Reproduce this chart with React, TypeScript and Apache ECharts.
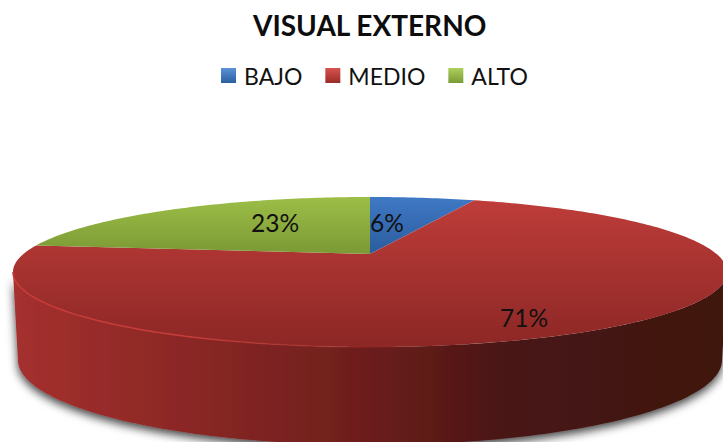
import React, { useEffect, useRef } from "react";
import * as echarts from "echarts";

const categories = ["BAJO", "MEDIO", "ALTO"];
const values = [6, 71, 23];
const titleText = "VISUAL EXTERNO";

const faceStops = [
  ["#3f78c4", "#2b5d9e"],
  ["#bf3d3a", "#8c2725"],
  ["#9dbe47", "#7b9935"],
];
const faceRanges = [
  [197, 254],
  [197, 347],
  [197, 254],
];
const legendStops = [
  ["#5b92d6", "#2a5f9f"],
  ["#d9534f", "#9a2b28"],
  ["#aed05c", "#7b9a36"],
];
const labelAnchors = [
  [387, 222],
  [524, 317],
  [275, 222],
];

// Projection of the tilted disc onto the page
const CX = 370;
const APEX_Y = 254;
const R = 346.6;
const H = 70.7;
const K = 0.24;
const TOP_ELLIPSE = { rx: 357, ry: 75, cy: 272 };
const BOTTOM_ELLIPSE = { rx: 352, ry: 85, cy: 360 };
const FONT = "Lato, 'Open Sans', sans-serif";

const rad = (d: number) => (d * Math.PI) / 180;
function top(theta: number): number[] {
  const u = Math.sin(rad(theta));
  const v = Math.cos(rad(theta));
  const w = 1 + K * v;
  return [CX + (R * u) / w, APEX_Y - (H * v) / w];
}
function bottom(p: number[]): number[] {
  return [
    CX + ((p[0] - CX) * BOTTOM_ELLIPSE.rx) / TOP_ELLIPSE.rx,
    BOTTOM_ELLIPSE.cy + ((p[1] - TOP_ELLIPSE.cy) * BOTTOM_ELLIPSE.ry) / TOP_ELLIPSE.ry,
  ];
}
function arc(a: number, b: number): number[][] {
  const n = Math.max(2, Math.ceil(Math.abs(b - a)));
  const pts: number[][] = [];
  for (let i = 0; i <= n; i++) pts.push(top(a + ((b - a) * i) / n));
  return pts;
}

const total = values.reduce((s, v) => s + v, 0);
const WALL_FROM = (Math.acos(-K) * 180) / Math.PI;
const WALL_TO = 360 - WALL_FROM;

function makeRender(index: number) {
  const before = values.slice(0, index).reduce((s, v) => s + v, 0);
  return (_params: any, api: any) => {
    const value = api.value(0);
    const start = (before / total) * 360;
    const end = ((before + value) / total) * 360;
    const children: any[] = [];
    const a = Math.max(start, WALL_FROM);
    const b = Math.min(end, WALL_TO);
    if (a < b) {
      const edge = arc(a, b);
      children.push({
        type: "polygon",
        shape: { points: edge.concat(edge.map(bottom).reverse()) },
        style: {
          fill: new echarts.graphic.LinearGradient(
            0, 0, 1, 0,
            [
              { offset: 0, color: "#a5302e" },
              { offset: 0.25, color: "#8a2725" },
              { offset: 0.5, color: "#6c1e1c" },
              { offset: 0.7, color: "#481513" },
              { offset: 1, color: "#3e1210" },
            ]
          ),
          shadowBlur: 10,
          shadowColor: "rgba(0,0,0,0.75)",
          shadowOffsetY: 4,
        },
      });
    }
    const outline = [[CX, APEX_Y]].concat(arc(start, end));
    children.push({
      type: "polygon",
      shape: { points: outline },
      style: {
        fill: new echarts.graphic.LinearGradient(
          0, faceRanges[index][0], 0, faceRanges[index][1],
          [
            { offset: 0, color: faceStops[index][0] },
            { offset: 1, color: faceStops[index][1] },
          ],
          true
        ),
      },
    });
    if (a < b) {
      children.push({
        type: "polyline",
        shape: { points: arc(a, b) },
        style: {
          fill: "none",
          lineWidth: 1.5,
          stroke: new echarts.graphic.LinearGradient(
            0, 0, 1, 0,
            [
              { offset: 0, color: "#c73c39" },
              { offset: 0.25, color: "#c73c39" },
              { offset: 0.6, color: "rgba(150,40,38,0)" },
              { offset: 1, color: "rgba(150,40,38,0)" },
            ]
          ),
        },
      });
    }
    children.push({
      type: "text",
      x: labelAnchors[index][0],
      y: labelAnchors[index][1],
      style: {
        text: Math.round((value / total) * 100) + "%",
        font: "24.5px " + FONT,
        fill: "#111111",
        align: "center",
        verticalAlign: "middle",
      },
    });
    return { type: "group", children };
  };
}

export default function App() {
  const ref = useRef<HTMLDivElement>(null);
  useEffect(() => {
    document.body.style.margin = "0";
    const chart = echarts.init(ref.current!, undefined, { renderer: "svg" });
    chart.setOption({
      animation: false,
      backgroundColor: "#ffffff",
      title: {
        text: titleText,
        left: 253,
        top: 11,
        padding: 0,
        textStyle: { fontFamily: FONT, fontWeight: "bold", fontSize: 28, color: "#0d0d0d" },
      },
      legend: {
        left: 221,
        top: 64,
        padding: 0,
        itemWidth: 15,
        itemHeight: 15,
        itemGap: 23,
        icon: "rect",
        textStyle: { fontFamily: FONT, fontSize: 23, color: "#111111", padding: [0, 0, 0, 3] },
        data: categories.map((name, i) => ({
          name,
          itemStyle: {
            color: new echarts.graphic.LinearGradient(0, 0, 0, 1, [
              { offset: 0, color: legendStops[i][0] },
              { offset: 1, color: legendStops[i][1] },
            ]),
          },
        })),
      },
      series: categories.map((name, i) => ({
        type: "custom",
        name,
        coordinateSystem: "none",
        itemStyle: { color: faceStops[i][0] },
        data: [[values[i]]],
        renderItem: makeRender(i),
      })),
    });
    return () => chart.dispose();
  }, []);
  return <div ref={ref} style={{ width: 723, height: 442 }} />;
}
